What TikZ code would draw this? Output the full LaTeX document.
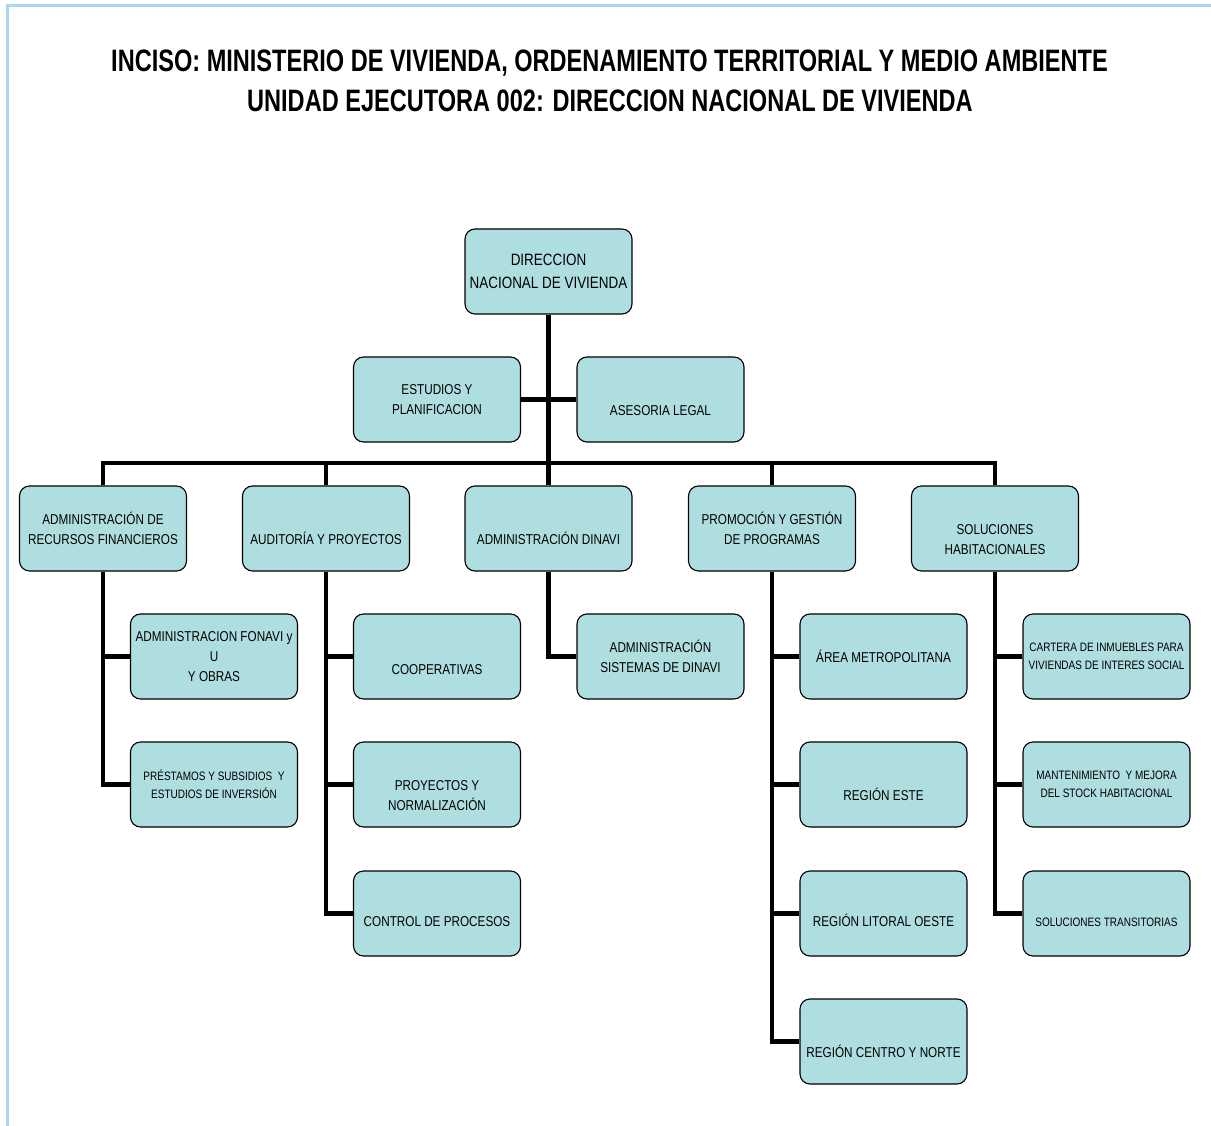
\documentclass[tikz,border=0pt]{standalone}
\usepackage{fontspec}
\setmainfont{Liberation Sans}[FakeStretch=0.82]
\newfontfamily\titlefont{Liberation Sans}[FakeStretch=0.76]
\definecolor{boxfill}{RGB}{175,222,224}
\definecolor{framecol}{RGB}{170,214,240}
% first line pushed down as in the original boxes
\newcommand{\sinktext}[1][32pt]{\rule{0pt}{#1}}
\begin{document}
\begin{tikzpicture}[x=1pt,y=-1pt,
    box/.style={draw=black, line width=1.1pt, fill=boxfill, rounded corners=10pt,
      minimum width=167pt, minimum height=85pt, inner sep=2pt, align=center,
      font=\fontsize{14.3}{20}\selectfont},
    small/.style={font=\fontsize{12.2}{17.5}\selectfont},
    conn/.style={line width=4.5pt},
    title/.style={anchor=base, font=\titlefont\fontsize{31}{36}\selectfont\bfseries}]
  \useasboundingbox (0,0) rectangle (1211,1126);
  \draw[framecol, line width=2.5pt] (1211,5.5) -- (7.5,5.5) -- (7.5,1126);

  % titulo
  \node[title] (t1) at (609.5,72) {INCISO: MINISTERIO DE VIVIENDA, ORDENAMIENTO TERRITORIAL Y MEDIO AMBIENTE};
  \node[title] (t2) at (610,112) {UNIDAD EJECUTORA 002: DIRECCION NACIONAL DE VIVIENDA};

  % direccion y asesorias
  \node[box, font=\fontsize{16.4}{23}\selectfont] (dir) at (548.5,271.5) {DIRECCION\\NACIONAL DE VIVIENDA};
  \node[box] (est) at (437,399.5) {ESTUDIOS Y\\PLANIFICACION};
  \node[box] (ase) at (660.5,399.5) {\sinktext ASESORIA LEGAL};

  % segundo nivel
  \node[box] (arf) at (103,528.5) {ADMINISTRACIÓN DE\\RECURSOS FINANCIEROS};
  \node[box] (aud) at (326,528.5) {\sinktext AUDITORÍA Y PROYECTOS};
  \node[box] (adm) at (548.5,528.5) {\sinktext ADMINISTRACIÓN DINAVI};
  \node[box] (pro) at (772,528.5) {PROMOCIÓN Y GESTIÓN\\DE PROGRAMAS};
  \node[box] (sol) at (995,528.5) {\sinktext SOLUCIONES\\HABITACIONALES};

  % dependencias
  \node[box] (fon) at (214,656.5) {ADMINISTRACION FONAVI y\\U\\Y OBRAS};
  \node[box, small] (pre) at (214,784.5) {PRÉSTAMOS Y SUBSIDIOS~~Y\\ESTUDIOS DE INVERSIÓN};

  \node[box] (coo) at (437,656.5) {\sinktext[37pt]COOPERATIVAS};
  \node[box] (pyn) at (437,784.5) {\sinktext PROYECTOS Y\\NORMALIZACIÓN};
  \node[box] (cdp) at (437,913.5) {\sinktext[27pt]CONTROL DE PROCESOS};

  \node[box] (sis) at (660.5,656.5) {ADMINISTRACIÓN\\SISTEMAS DE DINAVI};

  \node[box] (met) at (883.5,656.5) {ÁREA METROPOLITANA};
  \node[box] (est2) at (883.5,784.5) {\sinktext REGIÓN ESTE};
  \node[box] (lit) at (883.5,913.5) {\sinktext[27pt]REGIÓN LITORAL OESTE};
  \node[box] (cen) at (883.5,1041.5) {\sinktext REGIÓN CENTRO Y NORTE};

  \node[box, small] (car) at (1106.5,656.5) {CARTERA DE INMUEBLES PARA\\VIVIENDAS DE INTERES SOCIAL};
  \node[box, small] (man) at (1106.5,784.5) {MANTENIMIENTO~~Y MEJORA\\DEL STOCK HABITACIONAL};
  \node[box, small] (tra) at (1106.5,913.5) {\sinktext[27pt]SOLUCIONES TRANSITORIAS};

  % conectores
  \coordinate (bus) at (548.5,463);
  \draw[conn] (dir) -- (adm);
  \draw[conn] (est) -- (ase);
  \draw[conn] (arf.north) |- (bus) -| (sol.north);
  \draw[conn] (aud.north) -- (aud.north |- bus);
  \draw[conn] (pro.north) -- (pro.north |- bus);

  \draw[conn] (arf.south) |- (fon.west);
  \draw[conn] (arf.south) |- (pre.west);
  \draw[conn] (aud.south) |- (coo.west);
  \draw[conn] (aud.south) |- (pyn.west);
  \draw[conn] (aud.south) |- (cdp.west);
  \draw[conn] (adm.south) |- (sis.west);
  \draw[conn] (pro.south) |- (met.west);
  \draw[conn] (pro.south) |- (est2.west);
  \draw[conn] (pro.south) |- (lit.west);
  \draw[conn] (pro.south) |- (cen.west);
  \draw[conn] (sol.south) |- (car.west);
  \draw[conn] (sol.south) |- (man.west);
  \draw[conn] (sol.south) |- (tra.west);
\end{tikzpicture}
\end{document}
